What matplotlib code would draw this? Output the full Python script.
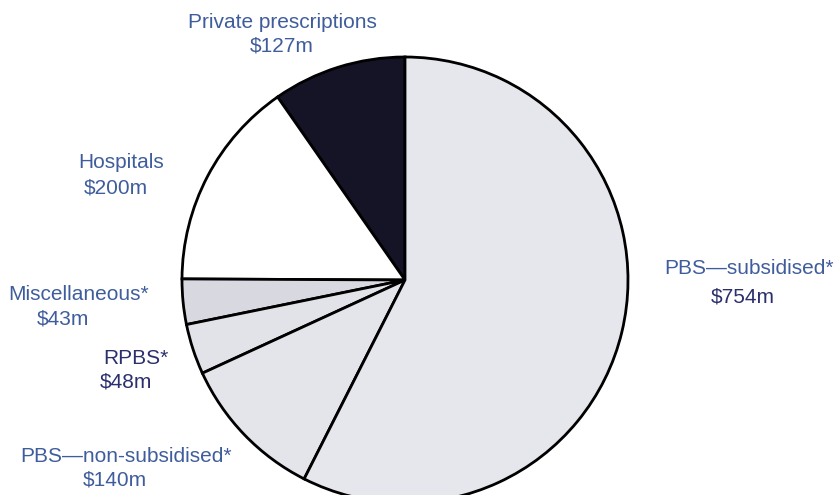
import matplotlib.pyplot as plt

# Pharmaceutical spending by source ($m)
labels = ['Private prescriptions', 'Hospitals', 'Miscellaneous*', 'RPBS*',
          'PBS\u2014non-subsidised*', 'PBS\u2014subsidised*']
values = [127, 200, 43, 48, 140, 754]
colors = ['#141426', '#ffffff', '#d8d8e0', '#e2e2e9', '#e4e4eb', '#e6e6ed']

fig = plt.figure(figsize=(8.4, 4.95), dpi=100)
ax = fig.add_axes([0, 0, 1, 1])

ax.pie(values, colors=colors, startangle=90, counterclock=True,
       center=(405, 215), radius=223,
       wedgeprops=dict(edgecolor='black', linewidth=2))
ax.set_xlim(0, 840)
ax.set_ylim(0, 495)
ax.set_aspect('equal')
ax.axis('off')

lab_col = '#3f5d9c'
dark_col = '#2b2f6c'
fs = 15
font = 'Liberation Sans'

# label positions (pixels from top-left) for each category
pos = {
    'Private prescriptions': (282, 22, 282, 46, lab_col, lab_col),
    'Hospitals': (121, 163, 116, 188, lab_col, lab_col),
    'Miscellaneous*': (79, 295, 63, 319, lab_col, lab_col),
    'RPBS*': (136, 358, 126, 382, dark_col, dark_col),
    'PBS\u2014non-subsidised*': (126, 456, 115, 480, lab_col, lab_col),
    'PBS\u2014subsidised*': (749, 268, 743, 297, lab_col, dark_col),
}

for name, val in zip(labels, values):
    x1, y1, x2, y2, c1, c2 = pos[name]
    ax.text(x1, 495 - y1, name, ha='center', va='center', fontsize=fs,
            color=c1, family=font)
    ax.text(x2, 495 - y2, '$%dm' % val, ha='center', va='center', fontsize=fs,
            color=c2, family=font)

fig.savefig('out.png', dpi=100)
